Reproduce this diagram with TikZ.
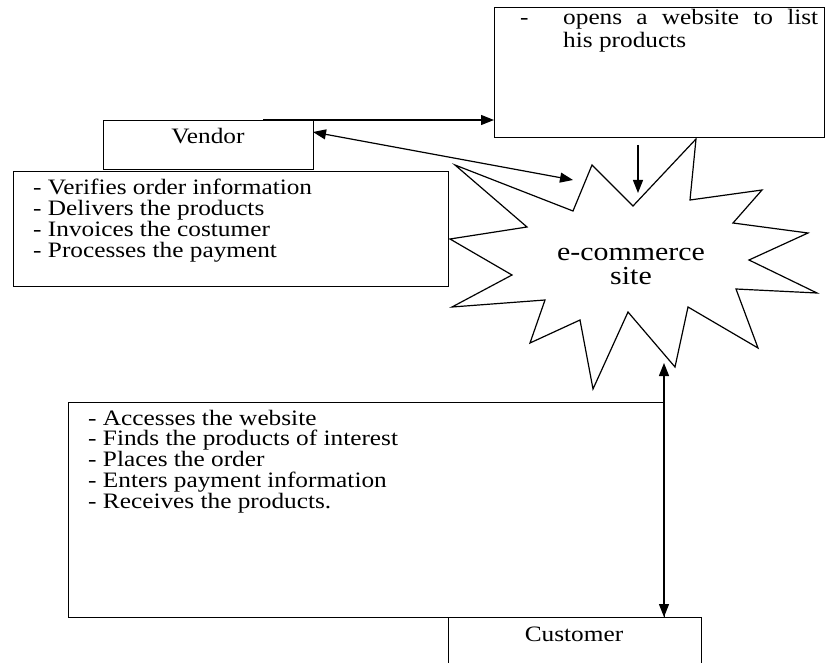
\documentclass[tikz,border=0pt]{standalone}
\usepackage{fontspec}
\setmainfont{Liberation Serif}[FakeStretch=1.15]
\usetikzlibrary{arrows.meta}

\tikzset{
  box/.style={draw, line width=1.2pt, anchor=north west, inner sep=0pt},
  txt/.style={anchor=base west, inner sep=0pt, font=\fontsize{22}{21}\selectfont},
  lbl/.style={anchor=base, inner sep=0pt, font=\fontsize{22}{21}\selectfont},
  arr/.style={line width=1.2pt, -{Triangle[length=13pt,width=10pt]}},
  dblarr/.style={line width=1.2pt, {Triangle[length=13pt,width=10pt]}-{Triangle[length=13pt,width=10pt]}},
}

\begin{document}
\begin{tikzpicture}[x=1pt,y=-1pt]
\useasboundingbox (0,0) rectangle (825,663);
\clip (0,0) rectangle (825,663);

\node[box, minimum width=330pt, minimum height=130pt] (web) at (494,7) {};
\node[box, minimum width=210pt, minimum height=49pt] (vendor) at (103,120) {};
\node[box, minimum width=435pt, minimum height=115pt] (vtasks) at (13,171) {};
\node[box, minimum width=596pt, minimum height=215pt] (ctasks) at (68,402) {};
\node[box, minimum width=253pt, minimum height=60pt] (customer) at (448,617) {};

\node[lbl] (vendorlbl) at (208,144) {Vendor};
\node[lbl] (customerlbl) at (574,641) {Customer};

\node[txt] (dash) at (520,25) {-};
\node[txt] (web1) at (563,25) {\makebox[255pt][s]{opens a website to list}};
\node[txt] (web2) at (563,48) {his products};

\foreach \line [count=\i] in {- Verifies order information, - Delivers the products, - Invoices the costumer, - Processes the payment}
  \node[txt] (vt\i) at (33,174+21*\i) {\line};

\foreach \line [count=\i] in {- Accesses the website, - Finds the products of interest, - Places the order, - Enters payment information, - Receives the products.}
  \node[txt] (ct\i) at (88,404.2+20.8*\i) {\line};

% the star
\draw[line width=1.2pt] (592,165) -- (633,206) -- (696,139) -- (690,200) -- (762,190)
  -- (733,223) -- (808,233) -- (749,260) -- (817,293) -- (736,289) -- (758,348)
  -- (688,307) -- (675,367) -- (628,312) -- (593,389) -- (580,320) -- (530,343)
  -- (545,300) -- (452,307) -- (512,275) -- (450,239) -- (527,227) -- (455,165)
  -- (573,211) -- cycle;
\node[inner sep=0pt, align=center, font=\fontsize{26}{24}\selectfont] (site) at (631,267) {e-commerce\\site};

\coordinate (vtop) at (263,120);
\coordinate (webin) at (vtop -| web.west);
\coordinate (vside) at (313,132);
\coordinate (siteleft) at (573,180);
\coordinate (webout) at (638,145);
\coordinate (sitetop) at (638,193);
\coordinate (sitebot) at (664,363);
\coordinate (custin) at (sitebot |- customer.north);

\foreach \from/\to/\tip in {vtop/webin/arr,vside/siteleft/dblarr,webout/sitetop/arr,sitebot/custin/dblarr}
\draw[\tip] (\from) -- (\to);
\end{tikzpicture}
\end{document}
